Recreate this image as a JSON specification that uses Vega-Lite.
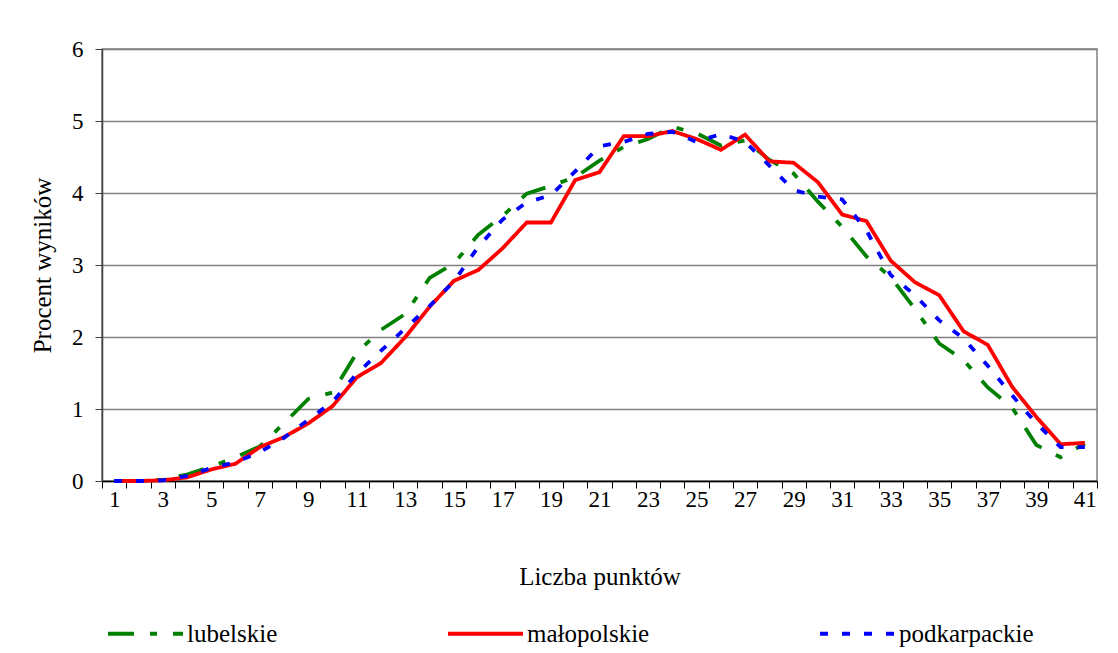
{
  "$schema": "https://vega.github.io/schema/vega-lite/v6.json",
  "width": 995,
  "height": 432,
  "autosize": {"type": "none"},
  "padding": {"left": 102, "top": 49, "right": 21, "bottom": 172},
  "background": "white",
  "config": {
    "view": {"stroke": "#808080", "strokeWidth": 1.5},
    "font": "Liberation Serif"
  },
  "data": {
    "values": [
      {"pkt": 1, "lubelskie": 0, "małopolskie": 0, "podkarpackie": 0},
      {"pkt": 2, "lubelskie": 0, "małopolskie": 0, "podkarpackie": 0},
      {"pkt": 3, "lubelskie": 0.02, "małopolskie": 0.01, "podkarpackie": 0.01},
      {"pkt": 4, "lubelskie": 0.09, "małopolskie": 0.05, "podkarpackie": 0.07},
      {"pkt": 5, "lubelskie": 0.2, "małopolskie": 0.16, "podkarpackie": 0.18},
      {"pkt": 6, "lubelskie": 0.33, "małopolskie": 0.24, "podkarpackie": 0.26},
      {"pkt": 7, "lubelskie": 0.48, "małopolskie": 0.47, "podkarpackie": 0.4},
      {"pkt": 8, "lubelskie": 0.8, "małopolskie": 0.61, "podkarpackie": 0.6},
      {"pkt": 9, "lubelskie": 1.14, "małopolskie": 0.8, "podkarpackie": 0.85},
      {"pkt": 10, "lubelskie": 1.23, "małopolskie": 1.04, "podkarpackie": 1.1},
      {"pkt": 11, "lubelskie": 1.78, "małopolskie": 1.44, "podkarpackie": 1.49},
      {"pkt": 12, "lubelskie": 2.1, "małopolskie": 1.64, "podkarpackie": 1.81},
      {"pkt": 13, "lubelskie": 2.32, "małopolskie": 2.0, "podkarpackie": 2.12},
      {"pkt": 14, "lubelskie": 2.82, "małopolskie": 2.42, "podkarpackie": 2.43},
      {"pkt": 15, "lubelskie": 3.02, "małopolskie": 2.78, "podkarpackie": 2.77},
      {"pkt": 16, "lubelskie": 3.42, "małopolskie": 2.93, "podkarpackie": 3.25},
      {"pkt": 17, "lubelskie": 3.68, "małopolskie": 3.23, "podkarpackie": 3.63},
      {"pkt": 18, "lubelskie": 3.99, "małopolskie": 3.59, "podkarpackie": 3.87},
      {"pkt": 19, "lubelskie": 4.1, "małopolskie": 3.59, "podkarpackie": 3.97},
      {"pkt": 20, "lubelskie": 4.22, "małopolskie": 4.18, "podkarpackie": 4.3},
      {"pkt": 21, "lubelskie": 4.45, "małopolskie": 4.29, "podkarpackie": 4.65},
      {"pkt": 22, "lubelskie": 4.64, "małopolskie": 4.79, "podkarpackie": 4.71},
      {"pkt": 23, "lubelskie": 4.75, "małopolskie": 4.79, "podkarpackie": 4.82},
      {"pkt": 24, "lubelskie": 4.92, "małopolskie": 4.86, "podkarpackie": 4.85},
      {"pkt": 25, "lubelskie": 4.83, "małopolskie": 4.75, "podkarpackie": 4.71},
      {"pkt": 26, "lubelskie": 4.66, "małopolskie": 4.6, "podkarpackie": 4.82},
      {"pkt": 27, "lubelskie": 4.73, "małopolskie": 4.81, "podkarpackie": 4.71},
      {"pkt": 28, "lubelskie": 4.46, "małopolskie": 4.44, "podkarpackie": 4.38},
      {"pkt": 29, "lubelskie": 4.27, "małopolskie": 4.42, "podkarpackie": 4.04},
      {"pkt": 30, "lubelskie": 3.88, "małopolskie": 4.15, "podkarpackie": 3.95},
      {"pkt": 31, "lubelskie": 3.53, "małopolskie": 3.7, "podkarpackie": 3.91},
      {"pkt": 32, "lubelskie": 3.12, "małopolskie": 3.61, "podkarpackie": 3.48},
      {"pkt": 33, "lubelskie": 2.83, "małopolskie": 3.06, "podkarpackie": 2.86},
      {"pkt": 34, "lubelskie": 2.39, "małopolskie": 2.76, "podkarpackie": 2.58},
      {"pkt": 35, "lubelskie": 1.91, "małopolskie": 2.58, "podkarpackie": 2.23},
      {"pkt": 36, "lubelskie": 1.68, "małopolskie": 2.08, "podkarpackie": 1.98},
      {"pkt": 37, "lubelskie": 1.3, "małopolskie": 1.89, "podkarpackie": 1.6},
      {"pkt": 38, "lubelskie": 1.02, "małopolskie": 1.31, "podkarpackie": 1.19},
      {"pkt": 39, "lubelskie": 0.5, "małopolskie": 0.89, "podkarpackie": 0.8},
      {"pkt": 40, "lubelskie": 0.33, "małopolskie": 0.51, "podkarpackie": 0.47},
      {"pkt": 41, "lubelskie": 0.52, "małopolskie": 0.53, "podkarpackie": 0.47}
    ]
  },
  "transform": [
    {"fold": ["lubelskie", "małopolskie", "podkarpackie"], "as": ["region", "procent"]}
  ],
  "mark": {"type": "line", "strokeWidth": 3.8},
  "encoding": {
    "x": {
      "field": "pkt",
      "type": "ordinal",
      "bandPosition": 0.5,
      "scale": {"paddingInner": 0, "paddingOuter": 0},
      "axis": {
        "title": "Liczba punktów",
        "labelAngle": 0,
        "tickBand": "extent",
        "labelExpr": "datum.value % 2 === 1 ? datum.label : ''",
        "labelFont": "Liberation Serif",
        "labelFontSize": 23,
        "labelColor": "black",
        "labelPadding": 0,
        "tickSize": 7,
        "tickColor": "black",
        "domainColor": "black",
        "domainWidth": 1.5,
        "titleFont": "Liberation Serif",
        "titleFontSize": 25,
        "titleFontWeight": "normal",
        "titleColor": "black",
        "titlePadding": 53,
        "grid": false
      }
    },
    "y": {
      "field": "procent",
      "type": "quantitative",
      "scale": {"domain": [0, 6]},
      "axis": {
        "title": "Procent wyników",
        "values": [0, 1, 2, 3, 4, 5, 6],
        "labelFont": "Liberation Serif",
        "labelFontSize": 23,
        "labelColor": "black",
        "labelPadding": 12,
        "tickSize": 7,
        "tickColor": "#404040",
        "domainColor": "#404040",
        "domainWidth": 1.5,
        "grid": true,
        "gridColor": "#808080",
        "gridWidth": 1.5,
        "titleFont": "Liberation Serif",
        "titleFontSize": 25,
        "titleFontWeight": "normal",
        "titleColor": "black",
        "titlePadding": 16
      }
    },
    "color": {
      "field": "region",
      "type": "nominal",
      "scale": {
        "domain": ["lubelskie", "małopolskie", "podkarpackie"],
        "range": ["#008000", "#ff0000", "#0000ff"]
      },
      "legend": {
        "title": null,
        "orient": "none",
        "direction": "horizontal",
        "legendX": 4,
        "legendY": 545,
        "padding": 0,
        "columnPadding": 162,
        "symbolType": "stroke",
        "symbolSize": 5625,
        "symbolStrokeWidth": 4,
        "labelFont": "Liberation Serif",
        "labelFontSize": 25,
        "labelColor": "black",
        "labelOffset": 2
      }
    },
    "strokeDash": {
      "field": "region",
      "type": "nominal",
      "scale": {
        "domain": ["lubelskie", "małopolskie", "podkarpackie"],
        "range": [[26, 16, 7, 16], [1, 0], [8, 14]]
      }
    }
  }
}
